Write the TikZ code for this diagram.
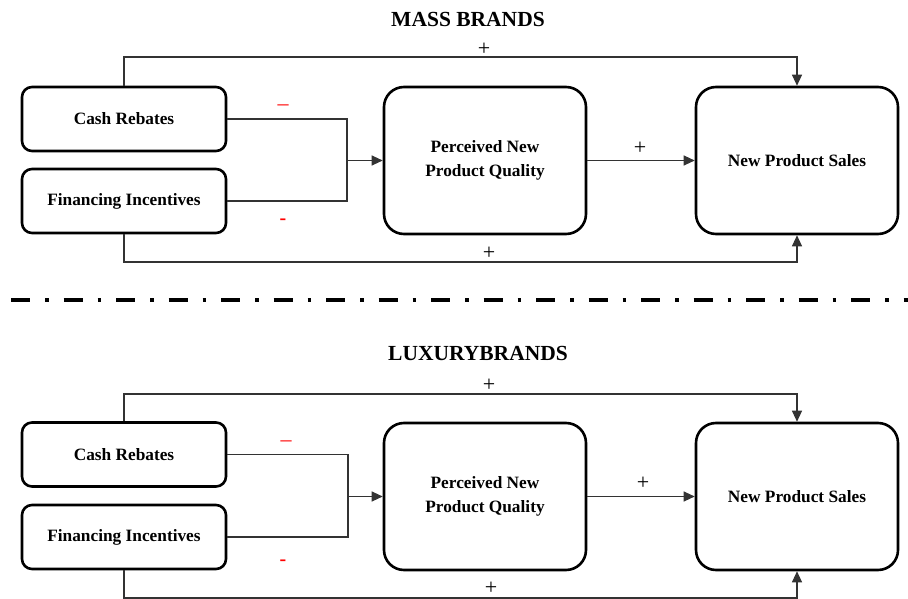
\documentclass[tikz,border=0pt]{standalone}
\usepackage{fontspec}
\setmainfont{Liberation Serif}
\usetikzlibrary{arrows.meta}
\begin{document}
\begin{tikzpicture}[x=1pt,y=-1pt,
  box/.style={draw,line width=2.6pt,rounded corners=10pt,minimum width=204pt,minimum height=64pt,inner sep=0pt,align=center,font=\fontsize{17.3}{23.5}\selectfont\bfseries},
  bigbox/.style={box,rounded corners=20pt,minimum width=202pt,minimum height=147pt},
  conn/.style={line width=1.1pt,black!80},
  arr/.style={conn,-{Triangle[length=11pt,width=10pt]}},
  plus/.style={font=\fontsize{22}{22}\selectfont,inner sep=0pt},
  minusthin/.style={text=red,font=\fontsize{22}{22}\selectfont,inner sep=0pt},
  minusbold/.style={text=red,font=\fontsize{20}{20}\selectfont\bfseries,inner sep=0pt},
  titletext/.style={font=\fontsize{21.5}{24}\selectfont\bfseries,inner sep=0pt},
  sepline/.style={line width=4.5pt,dash pattern=on 19pt off 15pt on 3.5pt off 15pt}
]
\useasboundingbox (0,0) rectangle (908,599);

% ---------- MASS BRANDS ----------
\node[titletext] (titleA) at (468,19) {MASS BRANDS};
\node[box] (cashA) at (124,119) {Cash Rebates};
\node[box] (finA) at (124,201) {Financing Incentives};
\node[bigbox] (pqA) at (485,160.5) {Perceived New\\Product Quality};
\node[bigbox] (salesA) at (797,160.5) {New Product Sales};
\coordinate (jA) at (347,160.5);
\coordinate (topA) at (460,57);
\coordinate (botA) at (460,262);
\draw[conn] (cashA.east) -| (jA);
\draw[conn] (finA.east) -| (jA);
\draw[arr] (jA) -- (pqA.west);
\draw[arr] (pqA.east) -- (salesA.west);
\draw[arr] (cashA.north) |- (topA) -| (salesA.north);
\draw[arr] (finA.south) |- (botA) -| (salesA.south);
\node[plus] (pTopA) at (484,49) {+};
\node[plus] (pMidA) at (640,148) {+};
\node[plus] (pBotA) at (489,253) {+};
\node[minusthin] (m1A) at (283,108) {–};
\node[minusbold] (m2A) at (283,222) {-};

% ---------- separator ----------
\coordinate (sepL) at (11,300);
\coordinate (sepR) at (908,300);
\draw[sepline] (sepL) -- (sepR);

% ---------- LUXURY BRANDS ----------
\node[titletext] (titleB) at (478,353) {LUXURYBRANDS};
\node[box] (cashB) at (124,454.5) {Cash Rebates};
\node[box] (finB) at (124,537) {Financing Incentives};
\node[bigbox] (pqB) at (485,496.5) {Perceived New\\Product Quality};
\node[bigbox] (salesB) at (797,496.5) {New Product Sales};
\coordinate (jB) at (348,496.5);
\coordinate (topB) at (460,394);
\coordinate (botB) at (460,598);
\draw[conn] (cashB.east) -| (jB);
\draw[conn] (finB.east) -| (jB);
\draw[arr] (jB) -- (pqB.west);
\draw[arr] (pqB.east) -- (salesB.west);
\draw[arr] (cashB.north) |- (topB) -| (salesB.north);
\draw[arr] (finB.south) |- (botB) -| (salesB.south);
\node[plus] (pTopB) at (489,385) {+};
\node[plus] (pMidB) at (643,483) {+};
\node[plus] (pBotB) at (491,588) {+};
\node[minusthin] (m1B) at (286,444) {–};
\node[minusbold] (m2B) at (283,563) {-};
\end{tikzpicture}
\end{document}
